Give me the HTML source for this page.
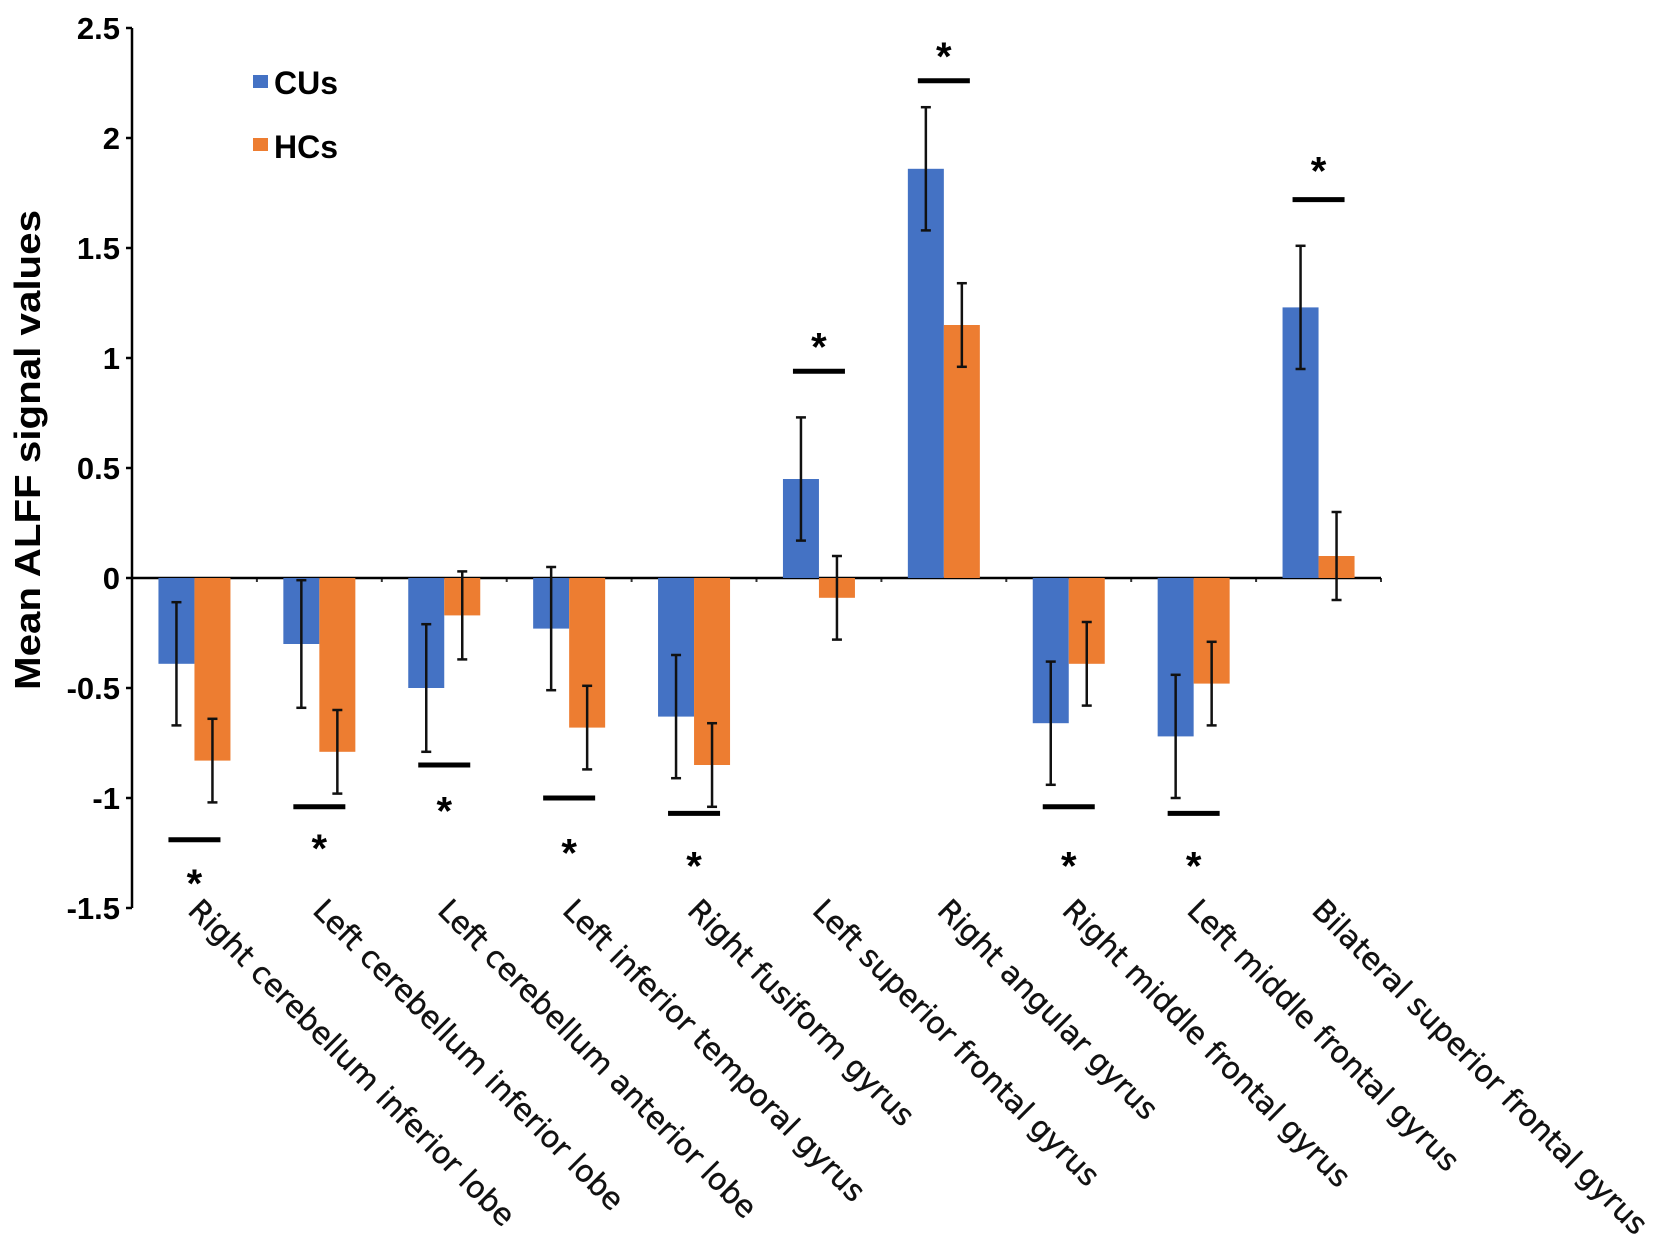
<!DOCTYPE html>
<html><head><meta charset="utf-8"><style>
html,body{margin:0;padding:0;background:#fff;}
svg{display:block;}
</style></head>
<body>
<svg id="chart" width="1677" height="1252" viewBox="0 0 1677 1252" xmlns="http://www.w3.org/2000/svg" font-family="Liberation Sans, sans-serif">
<g id="axes"></g>
<g id="bars"></g>
<g id="labels"></g>
<g transform="translate(40,450) rotate(-90)">
<text x="0" y="0" font-size="36" font-weight="bold" text-anchor="middle" textLength="480" lengthAdjust="spacingAndGlyphs">Mean ALFF signal values</text>
</g>
<g>
<rect x="253" y="75" width="15" height="13" fill="#4472C4"/>
<text x="274" y="94" font-size="32" font-weight="bold">CUs</text>
<rect x="253" y="138" width="15" height="13" fill="#ED7D31"/>
<text x="274" y="158" font-size="32" font-weight="bold">HCs</text>
</g>
</svg>
<script>
const categories = ["Right cerebellum inferior lobe","Left cerebellum inferior lobe","Left cerebellum anterior lobe","Left inferior temporal gyrus","Right fusiform gyrus","Left superior frontal gyrus","Right angular gyrus","Right middle frontal gyrus","Left middle frontal gyrus","Bilateral superior frontal gyrus"];
const cuValues = [-0.39,-0.30,-0.50,-0.23,-0.63,0.45,1.86,-0.66,-0.72,1.23];
const cuErrors = [0.28,0.29,0.29,0.28,0.28,0.28,0.28,0.28,0.28,0.28];
const hcValues = [-0.83,-0.79,-0.17,-0.68,-0.85,-0.09,1.15,-0.39,-0.48,0.10];
const hcErrors = [0.19,0.19,0.20,0.19,0.19,0.19,0.19,0.19,0.19,0.20];
const sigBarValues = [-1.19,-1.04,-0.85,-1.00,-1.07,0.94,2.26,-1.04,-1.07,1.72];
const sigStarValues = [-1.36,-1.20,-1.03,-1.22,-1.28,1.08,2.40,-1.28,-1.28,1.88];
const yTicks = [2.5,2,1.5,1,0.5,0,-0.5,-1,-1.5];
const yTickLabels = ["2.5","2","1.5","1","0.5","0","-0.5","-1","-1.5"];

const NS="http://www.w3.org/2000/svg";
const x0=132, x1=1381, yTop=28, yMin=-1.5, yMax=2.5, yBot=908;
const y=v=>yTop+(yMax-v)/(yMax-yMin)*(yBot-yTop);
const bandW=(x1-x0)/categories.length;
const cx=i=>x0+bandW*(i+0.5);
const barW=36;
function mk(tag,attrs,parent){const e=document.createElementNS(NS,tag);for(const k in attrs)e.setAttribute(k,attrs[k]);parent.appendChild(e);return e;}
const axes=document.getElementById('axes'),bars=document.getElementById('bars'),labels=document.getElementById('labels');

yTicks.forEach((t,i)=>{
  const tk=mk('line',{x1:x0-6,x2:x0,y1:y(t),y2:y(t),stroke:'#000','stroke-width':2.5},axes);
  
  
  const tx=mk('text',{x:x0-12,y:y(t)+11,'font-size':31,'font-weight':'bold','text-anchor':'end'},axes);
  tx.textContent=yTickLabels[i];
  
  
});
const ya=mk('line',{x1:x0,x2:x0,y1:yTop,y2:yBot,stroke:'#000','stroke-width':2.5},axes);



function errBar(xc,v,e,name){
  const g=mk('g',{},bars);
  
  
  mk('line',{x1:xc,x2:xc,y1:y(v+e),y2:y(v-e),stroke:'#111','stroke-width':2.5},g);
  mk('line',{x1:xc-5,x2:xc+5,y1:y(v+e),y2:y(v+e),stroke:'#111','stroke-width':2.5},g);
  mk('line',{x1:xc-5,x2:xc+5,y1:y(v-e),y2:y(v-e),stroke:'#111','stroke-width':2.5},g);
}
categories.forEach((c,i)=>{
  const xc=cx(i);
  const b1=mk('rect',{x:xc-barW,y:Math.min(y(0),y(cuValues[i])),width:barW,height:Math.abs(y(cuValues[i])-y(0)),fill:'#4472C4'},bars);
  
  
  const b2=mk('rect',{x:xc,y:Math.min(y(0),y(hcValues[i])),width:barW,height:Math.abs(y(hcValues[i])-y(0)),fill:'#ED7D31'},bars);
  
  
  errBar(xc-barW/2,cuValues[i],cuErrors[i],'error-bar-cus');
  errBar(xc+barW/2,hcValues[i],hcErrors[i],'error-bar-hcs');
  const sb=mk('line',{x1:xc-26,x2:xc+26,y1:y(sigBarValues[i]),y2:y(sigBarValues[i]),stroke:'#000','stroke-width':5},bars);
  
  
  const st=mk('text',{x:xc,y:y(sigStarValues[i])+20,'font-size':40,'font-weight':'bold','text-anchor':'middle'},bars);
  st.textContent='*';
  
  
  const lx=xc-8, ly=912;
  const lb=mk('text',{x:lx,y:ly,'font-size':30,'font-weight':'500',transform:`rotate(45 ${lx} ${ly})`,fill:'#111','font-family':'DejaVu Sans, sans-serif','stroke':'#111','stroke-width':0.4},labels);
  lb.textContent=c;
  
  
  const tk=mk('line',{x1:x0+bandW*(i+1),x2:x0+bandW*(i+1),y1:y(0),y2:y(0)+4,stroke:'#333','stroke-width':2},axes);
  
  
});
const xa=mk('line',{x1:x0,x2:x1,y1:y(0),y2:y(0),stroke:'#000','stroke-width':2.5},axes);


</script>
</body></html>
